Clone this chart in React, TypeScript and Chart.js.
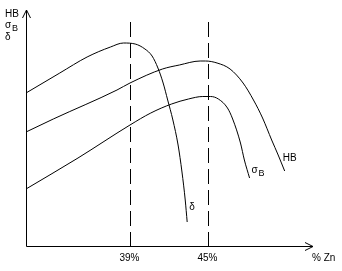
import React, { useEffect, useRef } from "react";
import { Chart, registerables } from "chart.js";

Chart.register(...registerables);

// % Zn positions of the marked compositions
const markedZinc = [39, 45];
const markedZincLabels = ["39%", "45%"];

// δ (elongation) curve
const deltaZinc = [31.0, 33.6, 35.7, 37.5, 38.5, 39.4, 40.15, 40.7, 41.15, 41.55, 41.9, 42.3, 42.7, 43.0, 43.25, 43.4];
const deltaValue = [153, 173, 189, 199, 203, 202, 197, 190, 178, 163, 146, 126, 101, 74, 46, 24];

// HB (hardness) curve
const hbZinc = [31.0, 33.1, 38.0, 39.0, 41.5, 42.8, 44.4, 44.8, 45.7, 46.7, 47.7, 48.5, 49.2, 49.9, 50.4, 50.9];
const hbValue = [114, 127, 156, 163, 177, 181, 185, 185, 183, 177, 163, 146, 128, 106, 91, 75];

// σB (tensile strength) curve
const sigmaZinc = [31.0, 35.0, 39.0, 40.6, 42.2, 43.5, 44.6, 45.2, 45.8, 46.5, 46.9, 47.5, 47.8, 48.2];
const sigmaValue = [57, 88, 121, 133, 142, 147, 149.5, 149.5, 147, 138, 127, 103, 86, 68];

const X_MIN = 31;
const X_MAX = 53.08;
const Y_MIN = 0;
const Y_MAX = 236;
const DASH_TOP = 224;

const FONT = "10px 'Liberation Sans', Arial, sans-serif";
const SUB_FONT = "9px 'Liberation Sans', Arial, sans-serif";

const toPoints = (xs: number[], ys: number[]) => xs.map((x, i) => ({ x, y: ys[i] }));

const overlay = {
  id: "overlay",
  beforeDatasetsDraw(chart: any) {
    const { ctx, chartArea, scales } = chart;
    const xs = scales.x;
    const ys = scales.y;
    const left = Math.round(chartArea.left) + 0.5;
    const bottom = Math.round(chartArea.bottom) + 0.5;
    const top = Math.round(chartArea.top);
    const right = Math.round(chartArea.right);
    ctx.save();
    ctx.strokeStyle = "#000";
    ctx.fillStyle = "#000";
    ctx.lineWidth = 1;

    // dashed verticals
    ctx.setLineDash([15, 6]);
    markedZinc.forEach((v) => {
      const px = Math.round(xs.getPixelForValue(v)) + 0.5;
      ctx.beginPath();
      ctx.moveTo(px, Math.round(ys.getPixelForValue(DASH_TOP)));
      ctx.lineTo(px, bottom);
      ctx.stroke();
    });
    ctx.setLineDash([]);

    // axes
    ctx.beginPath();
    ctx.moveTo(left, bottom);
    ctx.lineTo(left, top);
    ctx.moveTo(left - 4, top + 8);
    ctx.lineTo(left, top);
    ctx.lineTo(left + 4, top + 8);
    ctx.moveTo(left, bottom);
    ctx.lineTo(right, bottom);
    ctx.moveTo(right - 8, bottom - 4);
    ctx.lineTo(right, bottom);
    ctx.lineTo(right - 8, bottom + 4);
    ctx.stroke();

    // ticks and labels
    ctx.font = FONT;
    ctx.textBaseline = "alphabetic";
    markedZinc.forEach((v, i) => {
      const px = Math.round(xs.getPixelForValue(v)) + 0.5;
      ctx.beginPath();
      ctx.moveTo(px, bottom - 10);
      ctx.lineTo(px, bottom);
      ctx.stroke();
      ctx.textAlign = "center";
      ctx.fillText(markedZincLabels[i], px - 1, bottom + 14);
    });
    ctx.textAlign = "left";
    ctx.fillText("% Zn", right - 1, bottom + 14);

    // y-axis title
    ctx.fillText("HB", 5, 17);
    ctx.fillText("σ", 5, 28);
    ctx.font = SUB_FONT;
    ctx.fillText("B", 12, 31);
    ctx.font = FONT;
    ctx.fillText("δ", 5, 40);
    ctx.restore();
  },
  afterDatasetsDraw(chart: any) {
    const { ctx, scales } = chart;
    const xs = scales.x;
    const ys = scales.y;
    const end = (xa: number[], ya: number[]) => ({
      x: xs.getPixelForValue(xa[xa.length - 1]),
      y: ys.getPixelForValue(ya[ya.length - 1]),
    });
    ctx.save();
    ctx.fillStyle = "#000";
    ctx.font = FONT;
    ctx.textAlign = "left";
    ctx.textBaseline = "alphabetic";
    const d = end(deltaZinc, deltaValue);
    ctx.fillText("δ", d.x + 2, d.y - 12);
    const s = end(sigmaZinc, sigmaValue);
    ctx.fillText("σ", s.x + 2, s.y - 5);
    ctx.font = SUB_FONT;
    ctx.fillText("B", s.x + 9, s.y - 2);
    ctx.font = FONT;
    const h = end(hbZinc, hbValue);
    ctx.fillText("HB", h.x - 2, h.y - 10);
    ctx.restore();
  },
};

export default function App() {
  const ref = useRef<HTMLCanvasElement | null>(null);
  useEffect(() => {
    if (!ref.current) return;
    const line = (label: string, xs: number[], ys: number[]) => ({
      label,
      data: toPoints(xs, ys),
      borderColor: "#000",
      borderWidth: 1,
      pointRadius: 0,
      fill: false,
      cubicInterpolationMode: "monotone" as const,
    });
    const chart = new Chart(ref.current, {
      type: "line",
      data: {
        datasets: [
          line("δ", deltaZinc, deltaValue),
          line("HB", hbZinc, hbValue),
          line("σB", sigmaZinc, sigmaValue),
        ],
      },
      options: {
        responsive: false,
        animation: false,
        layout: { padding: { left: 26, right: 29, top: 10, bottom: 25 } },
        scales: {
          x: { type: "linear", min: X_MIN, max: X_MAX, display: false },
          y: { type: "linear", min: Y_MIN, max: Y_MAX, display: false },
        },
        plugins: { legend: { display: false }, tooltip: { enabled: false } },
        events: [],
      },
      plugins: [overlay],
    });
    return () => chart.destroy();
  }, []);
  return (
    <div style={{ position: "fixed", left: 0, top: 0, width: 342, height: 271, background: "#fff" }}>
      <canvas ref={ref} width={342} height={271} />
    </div>
  );
}
